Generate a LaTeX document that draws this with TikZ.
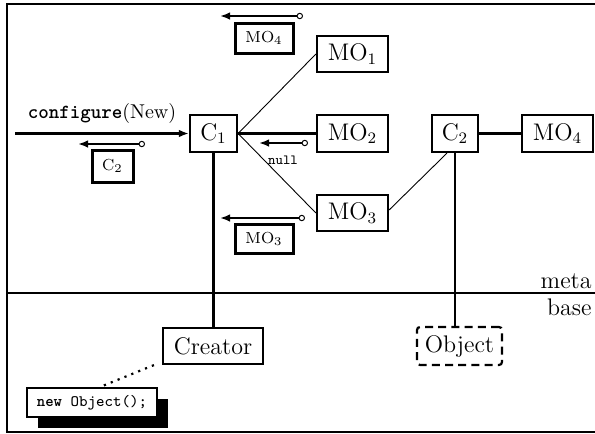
\documentclass[tikz,border=0pt]{standalone}
\usetikzlibrary{arrows.meta,shadows}
\begin{document}
\begin{tikzpicture}[x=0.5pt,y=-0.5pt,
  box/.style={draw,line width=1.1pt,inner sep=0pt,font=\large,fill=white},
  lbl/.style={draw,line width=1.5pt,inner sep=0pt,font=\footnotesize},
  thin/.style={line width=0.45pt},
  thick/.style={line width=1.1pt},
  smallarr/.style={line width=1.3pt,arrows={Latex[length=5pt,width=3.8pt]-Circle[open,length=3.2pt,width=3.2pt,line width=0.5pt]}},
  mainarr/.style={line width=1.1pt,-{Latex[length=5pt,width=3.8pt]}}]
\useasboundingbox (0,0) rectangle (595,434);
% frame
\draw[line width=0.9pt] (620,4) -- (7,4) -- (7,432) -- (620,432);
\coordinate (ml) at (7,293);
\coordinate (mr) at (620,293);
\draw[line width=1pt] (ml) -- (mr);
\node[anchor=south east,font=\large,inner sep=1pt] (meta) at (594,291) {meta};
\node[anchor=north east,font=\large,inner sep=1pt] (base) at (594,296) {base};
% nodes
\node[box,minimum width=23.5pt,minimum height=18.5pt] (C1) at (213.5,133.5) {C$_1$};
\node[box,minimum width=35.5pt,minimum height=18pt] (MO1) at (352.5,54) {MO$_1$};
\node[box,minimum width=35.5pt,minimum height=18.5pt] (MO2) at (352.5,133.5) {MO$_2$};
\node[box,minimum width=35.5pt,minimum height=18pt] (MO3) at (352.5,213) {MO$_3$};
\node[box,minimum width=23pt,minimum height=18.5pt] (C2) at (455,133.5) {C$_2$};
\node[box,minimum width=35.5pt,minimum height=18.5pt] (MO4) at (557.5,133.5) {MO$_4$};
\node[box,minimum width=50pt,minimum height=18pt] (Creator) at (213,346) {Creator};
\node[box,dash pattern=on 4pt off 2.6pt,rounded corners=1.5pt,minimum width=42.5pt,minimum height=19pt] (Object) at (459.5,346) {Object};
% connectors
\draw[thin] (C1.east) -- (MO1.west);
\draw[thin] (C1.east) -- (MO3.west);
\draw[thick] (C1.east) -- (MO2.west);
\draw[thin] ([yshift=1.5pt]MO3.east) -- ([xshift=-4pt]C2.south);
\draw[thick] (C2.east) -- (MO4.west);
\draw[thick] (C1.south) -- (C1.south |- Creator.north);
\draw[thick] (C2.south) -- (C2.south |- Object.north);
% configure arrow
\coordinate (cfg) at (15,133.5);
\draw[mainarr] (cfg) -- (C1.west) node[midway,above=1pt] (cfglbl) {\texttt{\textbf{configure}}(New)};
% small message arrows
\coordinate (t4) at (220,16); \coordinate (c4) at (303,16);
\draw[smallarr] (t4) -- (c4);
\node[lbl,minimum width=29pt,minimum height=15pt] (L4) at (264,38) {MO$_4$};
\coordinate (t2) at (78,144); \coordinate (c2) at (145,144);
\draw[smallarr] (t2) -- (c2);
\node[lbl,minimum width=20.5pt,minimum height=16pt] (L2) at (112.5,166) {C$_2$};
\coordinate (tn) at (259,143); \coordinate (cn) at (308,143);
\draw[smallarr] (tn) -- (cn);
\node[font=\scriptsize\ttfamily,inner sep=0pt] (null) at (283,160) {null};
\coordinate (t3) at (220,218); \coordinate (c3) at (305,218);
\draw[smallarr] (t3) -- (c3);
\node[lbl,minimum width=29pt,minimum height=14.5pt] (L3) at (264,238.5) {MO$_3$};
% code box
\node[draw,line width=1pt,fill=white,inner sep=0pt,minimum width=65pt,minimum height=14.5pt,
  drop shadow={shadow xshift=5.3pt,shadow yshift=-5.5pt,fill=black,opacity=1},
  font=\footnotesize\ttfamily] (code) at (92,402.5) {\textbf{new} Object();};
\draw[line width=1.1pt,dash pattern=on 1.1pt off 2.6pt] ([xshift=-4pt]Creator.south west) -- ([xshift=4pt]code.north);
\end{tikzpicture}
\end{document}
